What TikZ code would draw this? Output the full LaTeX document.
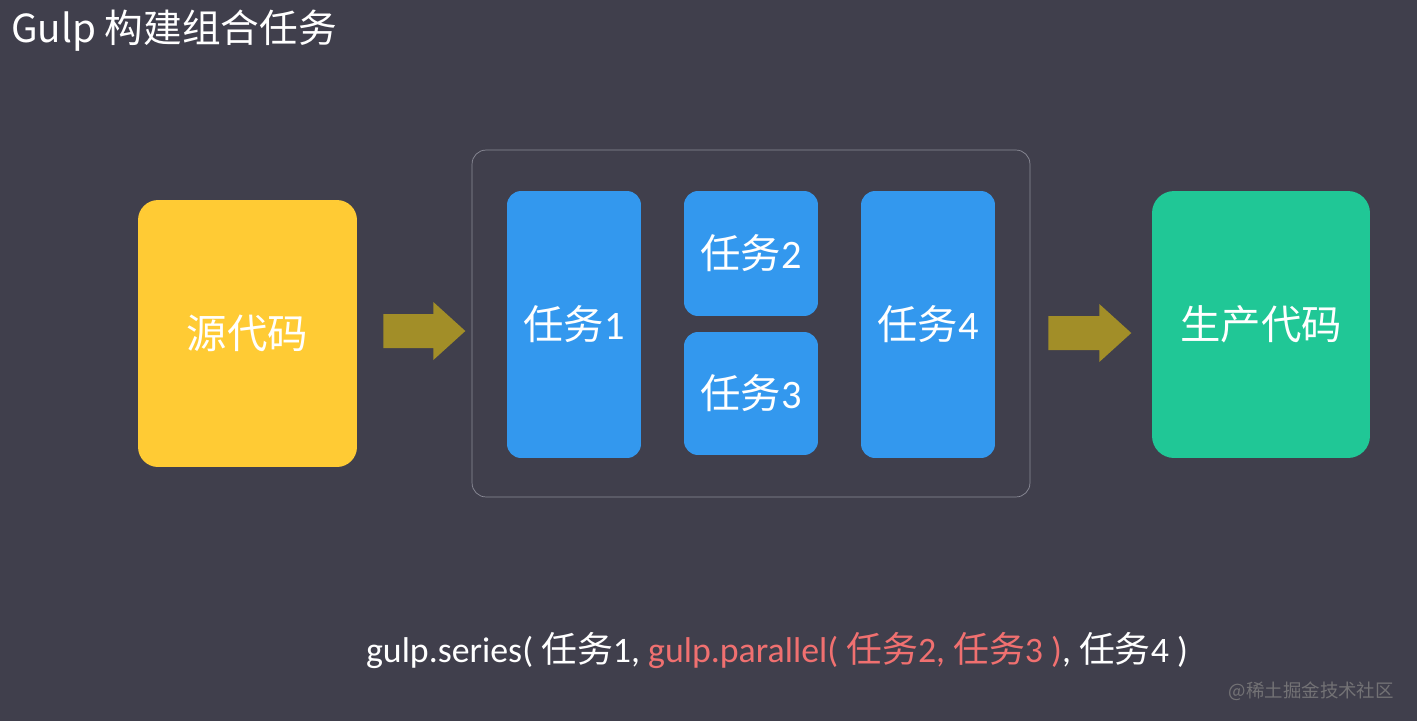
\documentclass[tikz,border=0pt]{standalone}
\usepackage{fontspec}
\setmainfont{Carlito}
\newfontfamily\cjk{Noto Sans CJK SC}
\usetikzlibrary{calc}
\definecolor{Slate}{RGB}{64,63,76}
\definecolor{SrcYellow}{RGB}{255,203,52}
\definecolor{TaskBlue}{RGB}{51,152,238}
\definecolor{OutGreen}{RGB}{32,199,150}
\definecolor{ArrowOlive}{RGB}{162,142,40}
\definecolor{FrameGray}{RGB}{140,140,152}
\definecolor{CodeRed}{RGB}{240,112,112}
\tikzset{
  box/.style={rounded corners=0.4cm,text=white,font=\fontsize{23}{27}\selectfont,inner sep=0pt},
  task/.style={box,fill=TaskBlue,rounded corners=0.28cm,minimum width=2.68cm},
  fat/.style={fill=ArrowOlive}
}
\begin{document}
\begin{tikzpicture}[x=0.02cm,y=-0.02cm]
  \fill[Slate] (0,0) rectangle (1417,721);
  \useasboundingbox (0,0) rectangle (1417,721);
  \node[anchor=west,text=white,font=\cjk\fontsize{22}{26}\selectfont] (title) at (5,31) {Gulp 构建组合任务};
  % source and output
  \node[box,fill=SrcYellow,minimum width=4.38cm,minimum height=5.34cm] (src) at (247.5,333.5) {\cjk 源代码};
  \node[box,fill=OutGreen,rounded corners=0.44cm,minimum width=4.36cm,minimum height=5.34cm] (out) at (1261,324.5) {\cjk 生产代码};
  % the combined tasks
  \node[draw=FrameGray,rounded corners=0.28cm,minimum width=11.16cm,minimum height=6.94cm] (group) at (751,323.5) {};
  \node[task,minimum height=5.34cm] (t1) at (574,324.5) {{\cjk 任务}1};
  \node[task,minimum height=2.5cm] (t2) at (751,253.5) {{\cjk 任务}2};
  \node[task,minimum height=2.46cm] (t3) at (751,393.5) {{\cjk 任务}3};
  \node[task,minimum height=5.34cm] (t4) at (928,324.5) {{\cjk 任务}4};
  % fat arrows
  \fill[fat] ($(src.east)+(26,-2.5)$) ++(0,-17) -- ++(50,0) -- ++(0,-12) -- ++(32,29) -- ++(-32,29) -- ++(0,-12) -- ++(-50,0) -- cycle;
  \fill[fat] ($(group.east)+(18,9.5)$) ++(0,-17) -- ++(51,0) -- ++(0,-12) -- ++(32,29) -- ++(-32,29) -- ++(0,-12) -- ++(-51,0) -- cycle;
  \node[text=white,font=\fontsize{20.4}{24}\selectfont] (code) at (777,650)
    {gulp.series( {\cjk 任务}1, \textcolor{CodeRed}{gulp.parallel( {\cjk 任务}2, {\cjk 任务}3 )}, {\cjk 任务}4 )};
  \node[anchor=east,text=gray!80!Slate,font=\cjk\fontsize{10.5}{12}\selectfont] (mark) at (1400,691) {@稀土掘金技术社区};
\end{tikzpicture}
\end{document}
